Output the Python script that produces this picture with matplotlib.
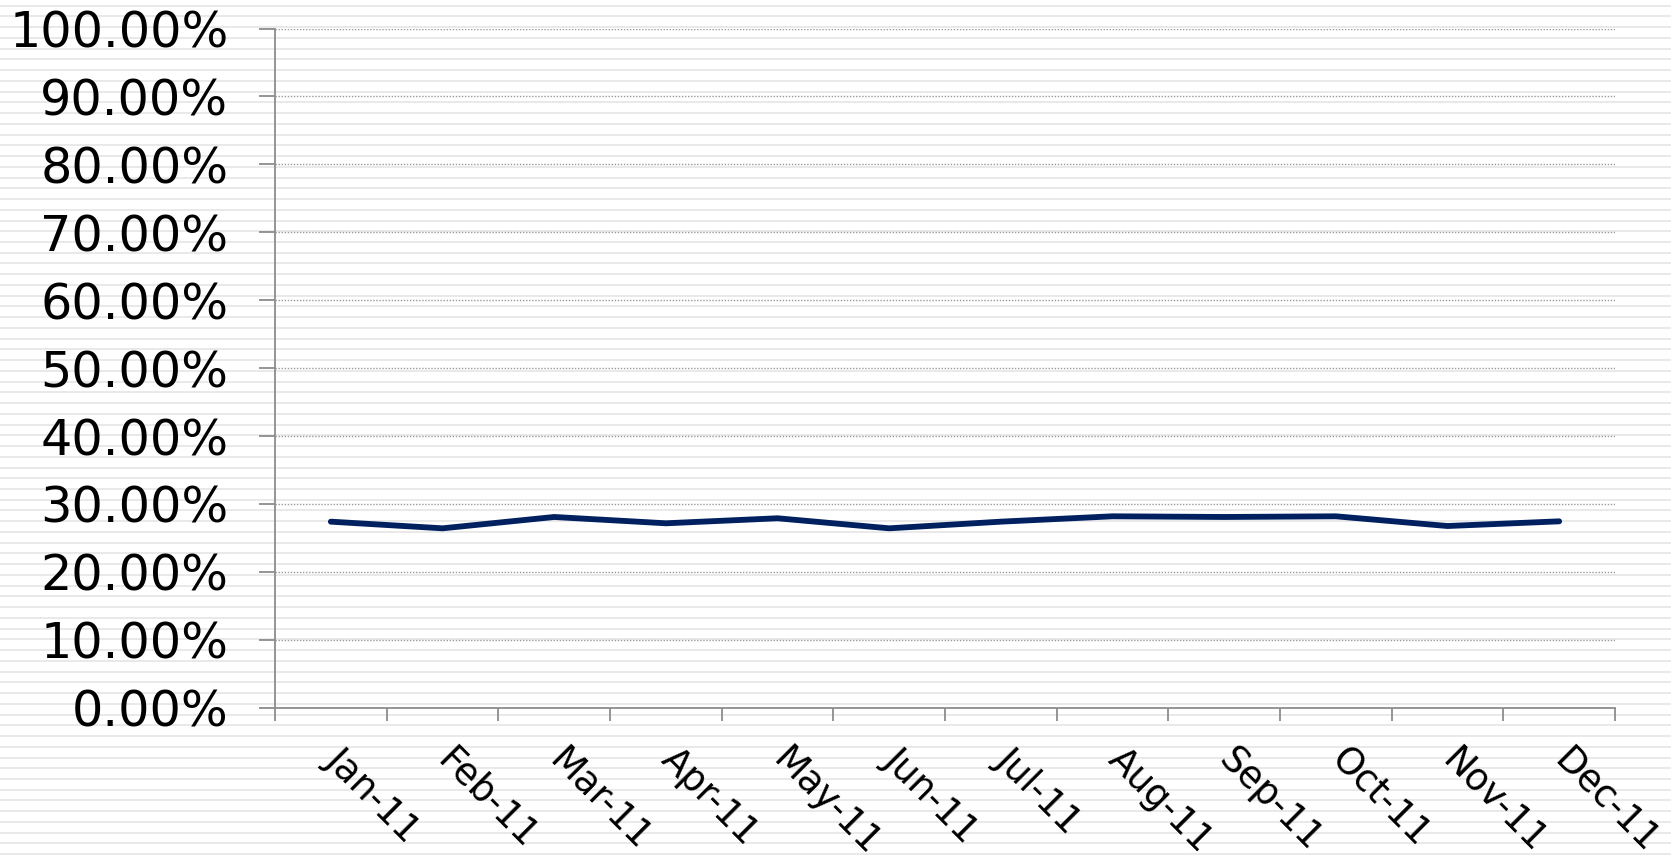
import matplotlib
matplotlib.use("Agg")
import matplotlib.pyplot as plt
import matplotlib.transforms as mtransforms
import numpy as np

months = ["Jan-11", "Feb-11", "Mar-11", "Apr-11", "May-11", "Jun-11",
          "Jul-11", "Aug-11", "Sep-11", "Oct-11", "Nov-11", "Dec-11"]
rate = [27.39, 26.41, 28.08, 27.15, 27.89, 26.41,
        27.39, 28.18, 28.08, 28.18, 26.75, 27.44]
y_ticks = [0, 10, 20, 30, 40, 50, 60, 70, 80, 90, 100]
y_labels = [f"{v:.2f}%" for v in y_ticks]

W, H, DPI = 1671, 857, 100
fig = plt.figure(figsize=(W / DPI, H / DPI), dpi=DPI)
fig.patch.set_facecolor("white")

# striped background
bg = fig.add_axes([0, 0, 1, 1], zorder=-5)
bg.set_xlim(0, W)
bg.set_ylim(H, 0)
bg.axis("off")
period, start = 10.74, 5.7
y = start
while y < H + 5:
    bg.axhline(y, color="#e6e6e6", lw=1.7 * 72 / DPI, zorder=0)
    y += period

left, right = 275 / W, 1615 / W
bottom, top = (H - 707.7) / H, (H - 28.5) / H
ax = fig.add_axes([left, bottom, right - left, top - bottom])
ax.set_facecolor("none")

x = np.arange(1, len(months) + 1)
ax.plot(x, rate, color="#002060", lw=4.2, solid_capstyle="round",
        solid_joinstyle="round", zorder=3)

ax.set_xlim(0.5, len(months) + 0.5)
ax.set_ylim(0, 100)

axis_col = "#8c8c8c"
for s in ["top", "right"]:
    ax.spines[s].set_visible(False)
for s in ["left", "bottom"]:
    ax.spines[s].set_color(axis_col)
    ax.spines[s].set_linewidth(1.3)

ax.set_yticks(y_ticks)
ax.set_yticklabels(y_labels, fontsize=35.5, family="DejaVu Sans")
ax.tick_params(axis="y", length=11.5, width=1.3, color=axis_col, pad=22)
for v in y_ticks[1:]:
    ax.axhline(v, color="#9a9a9a", lw=1.0, ls=(0, (1, 1.2)), zorder=1)

ax.set_xticks(np.arange(0.5, len(months) + 1, 1.0))
ax.set_xticklabels([])
ax.tick_params(axis="x", length=9, width=1.3, color=axis_col)

offset = mtransforms.ScaledTranslation(14 / DPI, -33 / DPI, fig.dpi_scale_trans)
trans = mtransforms.blended_transform_factory(ax.transData, ax.transAxes) + offset
for xi, lab in zip(x, months):
    ax.text(xi, 0, lab, transform=trans, rotation=-45, rotation_mode="anchor",
            ha="left", va="top", fontsize=26.5, family="DejaVu Sans", clip_on=False)

fig.savefig("out.png", dpi=DPI, facecolor="white")
